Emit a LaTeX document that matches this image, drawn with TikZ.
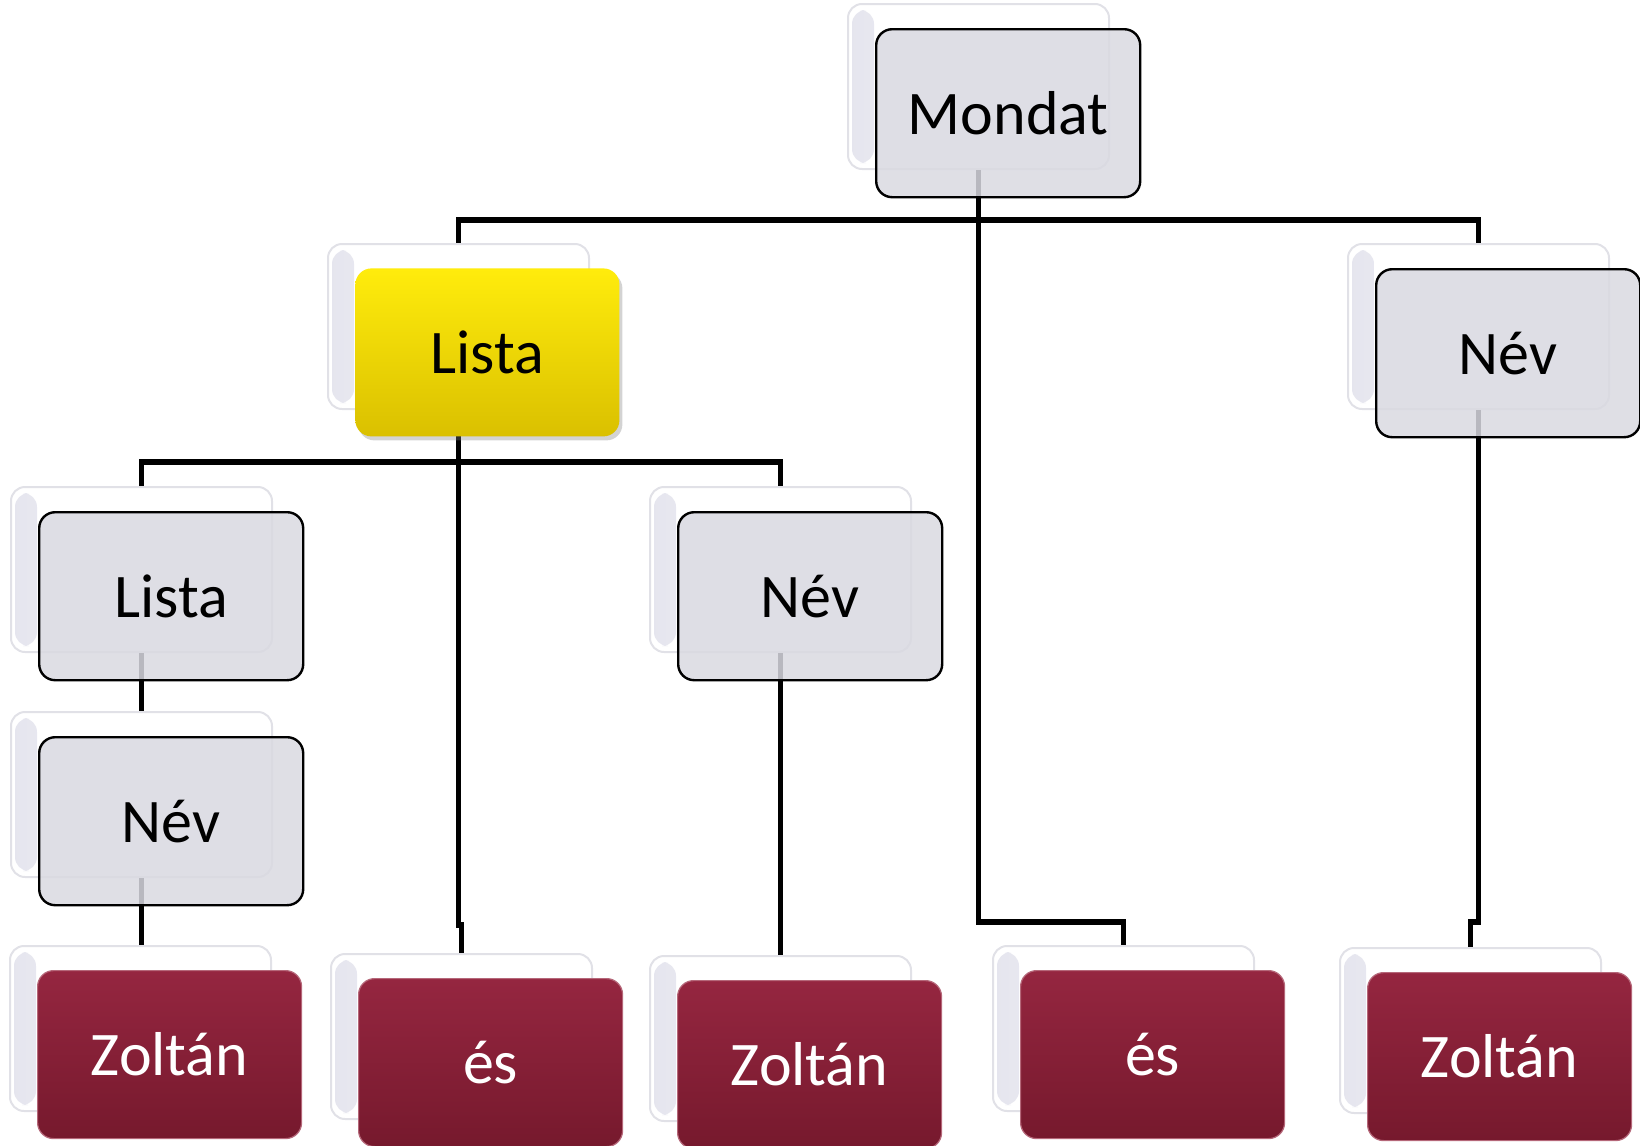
\documentclass[tikz,border=0pt]{standalone}
\usepackage{fontspec}
\setmainfont{Carlito}
\usetikzlibrary{shadows}
\definecolor{boxgray}{RGB}{217,217,225}
\definecolor{frameline}{RGB}{225,225,231}
\definecolor{bevel}{RGB}{229,229,238}
\definecolor{yellowtop}{RGB}{255,236,12}
\definecolor{yellowbot}{RGB}{218,192,0}
\definecolor{maroontop}{RGB}{149,38,64}
\definecolor{maroonbot}{RGB}{118,25,45}
\tikzset{
  backframe/.style={anchor=north west,minimum width=130.5pt,minimum height=82.5pt,inner sep=0pt,
    rounded corners=7pt,draw=frameline,line width=1pt,fill=white,
    path picture={\shade[left color=bevel,right color=white]
      ([xshift=2pt,yshift=-3pt]path picture bounding box.north west) rectangle
      ([xshift=13pt,yshift=3pt]path picture bounding box.south west);}},
  graybox/.style={anchor=north west,minimum width=132pt,minimum height=84pt,inner sep=0pt,
    rounded corners=8pt,draw=black,line width=1.2pt,fill=boxgray,fill opacity=0.85,text opacity=1},
  yellowbox/.style={anchor=north west,minimum width=132pt,minimum height=84pt,inner sep=0pt,
    rounded corners=8pt,top color=yellowtop,bottom color=yellowbot,
    drop shadow={opacity=0.35,shadow xshift=1.5pt,shadow yshift=-2pt}},
  maroonbox/.style={anchor=north west,minimum width=132pt,minimum height=84pt,inner sep=0pt,
    rounded corners=8pt,draw=maroontop!70!white,line width=0.6pt,
    top color=maroontop,bottom color=maroonbot,text=white},
  conn/.style={draw=black,line width=2.8pt}
}
\begin{document}
\begin{tikzpicture}[x=0.5pt,y=-0.5pt,font=\fontsize{31}{36}\selectfont,line join=miter]
	\useasboundingbox (0,0) rectangle (1640,1146);
	% hatso keretek
	\foreach \n/\x/\y in {mondat/847/3, lista/327/243, nev/1347/243, listab/10/486, nevb/649/486,%
		nevc/10/711, zoltana/9/945, esa/330/953, zoltanb/649/955, esb/992/945, zoltanc/1339/947}{
			\node[backframe] (\n) at (\x,\y) {};
		}
	% vonalak
	\draw[conn] (mondat.south) -- ++(0,50) -| (lista.north);
	\draw[conn] (mondat.south) -- ++(0,50) -| (nev.north);
	\draw[conn] (mondat.south) -- ++(0,752) -| (esb.north);
	\draw[conn] (lista.south) -- ++(0,52) -| (listab.north);
	\draw[conn] (lista.south) -- ++(0,52) -| (nevb.north);
	\draw[conn] (lista.south) -- ++(0,515) -| (esa.north);
	\draw[conn] (listab.south) -- (nevc.north);
	\draw[conn] (nevc.south) -- (nevc.south |- zoltana.north);
	\draw[conn] (nevb.south) -- (zoltanb.north);
	\draw[conn] (nev.south) -- ++(0,512) -| (zoltanc.north);
	% elso dobozok
	\foreach \n/\t in {mondat/Mondat, nev/Név, listab/Lista, nevb/Név, nevc/Név}{
			\node[graybox] (\n-box) at ([shift={(28,25)}]\n.north west) {\t};
		}
	\node[yellowbox] (lista-box) at ([shift={(28,25)}]lista.north west) {Lista};
	\foreach \n/\t in {zoltana/Zoltán, esa/és, zoltanb/Zoltán, esb/és, zoltanc/Zoltán}{
			\node[maroonbox] (\n-box) at ([shift={(28,25)}]\n.north west) {\t};
		}
\end{tikzpicture}
\end{document}
